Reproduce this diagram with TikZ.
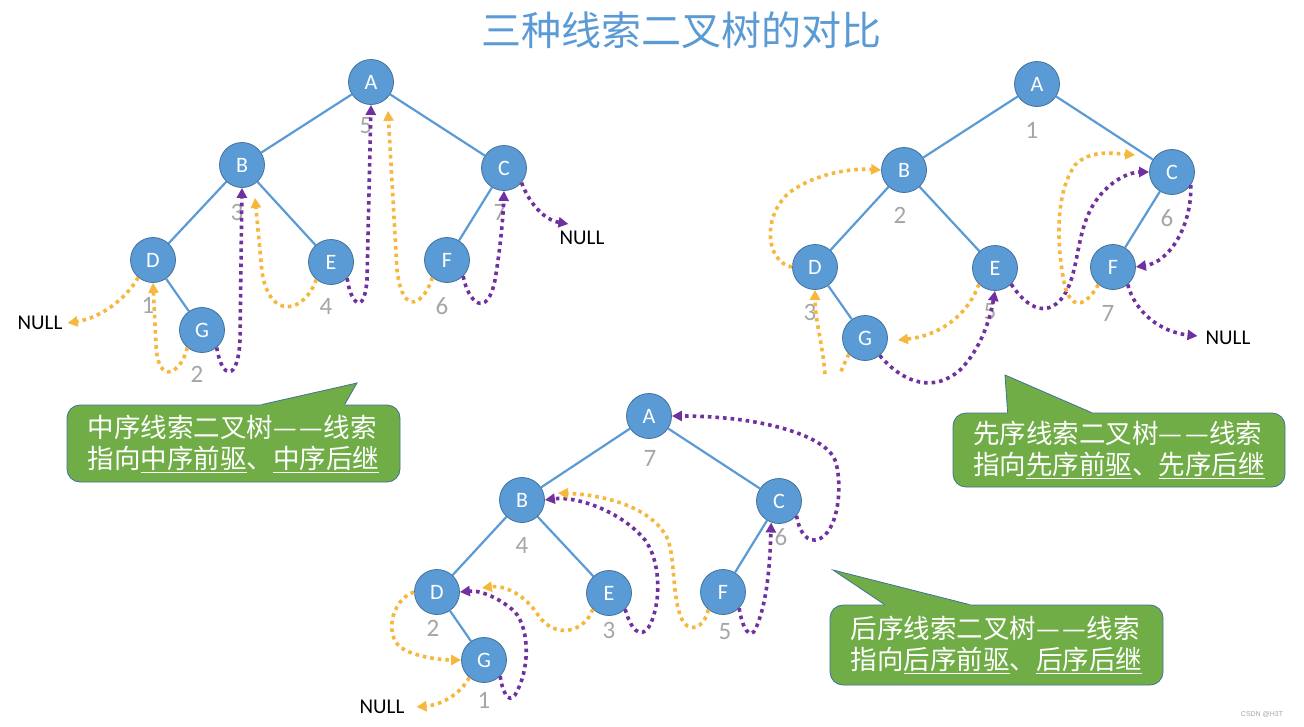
\documentclass[tikz,border=0pt]{standalone}
\usepackage{fontspec}
\setmainfont{Carlito}
\newfontfamily\cjk{Noto Sans CJK SC}
\newfontfamily\wmfont{Liberation Sans}
\usetikzlibrary{arrows.meta,calc}
\definecolor{nblue}{HTML}{5B9BD5}
\definecolor{nborder}{HTML}{41719C}
\definecolor{eblue}{HTML}{5B9BD5}
\definecolor{thyellow}{HTML}{F6B73C}
\definecolor{thpurple}{HTML}{7030A0}
\definecolor{numgray}{HTML}{A6A6A6}
\definecolor{cgreen}{HTML}{70AD47}
\definecolor{cborder}{HTML}{41719C}
\definecolor{titleblue}{HTML}{5B9BD5}
\newcommand{\dd}{—\kern3pt—}
\tikzset{
  tnode/.style={circle, minimum size=45pt, inner sep=0pt, fill=nblue, draw=nborder, line width=0.8pt, text=white, font=\fontsize{22}{22}\selectfont},
  tedge/.style={draw=eblue, line width=2.2pt},
  num/.style={text=numgray, inner sep=0pt, font=\fontsize{25}{25}\selectfont},
  nulltxt/.style={inner sep=0pt, font=\fontsize{21}{21}\selectfont},
  ythr/.style={draw=thyellow, line width=3.6pt, dash pattern=on 3.6pt off 4pt, -{Triangle[length=10pt,width=10pt]}},
  pthr/.style={draw=thpurple, line width=3.6pt, dash pattern=on 3.6pt off 4pt, -{Triangle[length=10pt,width=10pt]}},
  ythrplain/.style={draw=thyellow, line width=3.6pt, dash pattern=on 3.6pt off 4pt},
  callout/.style={rectangle, rounded corners=13pt, fill=cgreen, draw=cborder, line width=0.8pt, text=white, align=left, inner sep=0pt, font=\cjk\fontsize{26.5}{31}\selectfont},
  calloutside/.style={draw=cborder, line width=0.8pt}
}
\begin{document}
\begin{tikzpicture}[x=1pt,y=-1pt]
\useasboundingbox (0,0) rectangle (1304,726);
\fill[white] (0,0) rectangle (1304,726);

% title
\node[font=\cjk\fontsize{40}{40}\selectfont, text=titleblue] (title) at (681,30) {三种线索二叉树的对比};

% ===================== In-order tree =====================
\node[tnode] (iA) at (371,82) {A};
\node[tnode] (iB) at (242,165) {B};
\node[tnode] (iC) at (504,168) {C};
\node[tnode] (iD) at (153,260) {D};
\node[tnode] (iE) at (331,262) {E};
\node[tnode] (iF) at (447,260) {F};
\node[tnode] (iG) at (202,330) {G};
\draw[tedge] (iA) -- (iB);
\draw[tedge] (iA) -- (iC);
\draw[tedge] (iB) -- (iD);
\draw[tedge] (iB) -- (iE);
\draw[tedge] (iC) -- (iF);
\draw[tedge] (iD) -- (iG);
\node[num] (in5) at (366,126) {5};
\node[num] (in3) at (237,212) {3};
\node[num] (in7) at (500,212) {7};
\node[num] (in1) at (148,305) {1};
\node[num] (in4) at (326,306) {4};
\node[num] (in6) at (442,306) {6};
\node[num] (in2) at (197,374) {2};
\node[nulltxt] (iNL) at (40,323) {NULL};
\node[nulltxt] (iNR) at (582,238) {NULL};

\draw[ythr] (iD.-130) .. controls (125,300) and (100,318) .. ($(iNL.east)+(5,0)$);
\draw[ythr] (iG.-130) .. controls (182,372) and (158,388) .. (156,345) -- (iD.south);
\draw[pthr] (iG.-50) .. controls (222,380) and (238,382) .. (240,340) -- (iB.south);
\draw[ythr] (iE.-130) .. controls (305,312) and (270,322) .. (262,272) -- ($(iB.south)+(13,10)$);
\draw[pthr] (iE.-45) .. controls (350,302) and (364,318) .. (367,280) -- (iA.south);
\draw[ythr] (iF.-130) .. controls (425,302) and (403,320) .. (397,270) -- ($(iA.south)+(17,6)$);
\draw[pthr] (iF.-45) .. controls (468,302) and (487,320) .. (495,280) .. controls (500,250) and (503,220) .. (iC.south);
\draw[pthr] (iC.-40) .. controls (530,205) and (545,220) .. ($(iNR.north west)+(9,-7)$);

% ===================== Pre-order tree =====================
\node[tnode] (pA) at (1037,84) {A};
\node[tnode] (pB) at (904,170) {B};
\node[tnode] (pC) at (1172,172) {C};
\node[tnode] (pD) at (815,267) {D};
\node[tnode] (pE) at (995,268) {E};
\node[tnode] (pF) at (1113,267) {F};
\node[tnode] (pG) at (865,338) {G};
\draw[tedge] (pA) -- (pB);
\draw[tedge] (pA) -- (pC);
\draw[tedge] (pB) -- (pD);
\draw[tedge] (pB) -- (pE);
\draw[tedge] (pC) -- (pF);
\draw[tedge] (pD) -- (pG);
\node[num] (pn1) at (1032,130) {1};
\node[num] (pn2) at (900,215) {2};
\node[num] (pn3) at (810,312) {3};
\node[num] (pn5) at (990,312) {5};
\node[num] (pn6) at (1167,218) {6};
\node[num] (pn7) at (1108,313) {7};
\node[nulltxt] (pN) at (1228,338) {NULL};
\coordinate (pcut1) at (825,374);
\coordinate (pcut2) at (840,374);

\draw[ythr] (pD.west) .. controls (765,262) and (762,215) .. (790,192) .. controls (815,174) and (850,168) .. (pB.west);
\draw[ythr] (pcut1) .. controls (822,340) and (815,320) .. (pD.south);
\draw[ythrplain] (pG.-135) .. controls (846,360) and (843,366) .. (pcut2);
\draw[pthr] (pG.-50) .. controls (905,385) and (935,392) .. (960,370) .. controls (980,350) and (990,320) .. (pE.south);
\draw[ythr] (pE.-135) .. controls (970,310) and (945,335) .. ($(pG.east)+(10,2)$);
\draw[pthr] (pE.-45) .. controls (1025,305) and (1045,320) .. (1063,297) .. controls (1080,272) and (1075,232) .. (1095,202) .. controls (1110,180) and (1130,172) .. (pC.west);
\draw[ythr] (pF.-130) .. controls (1090,300) and (1072,318) .. (1064,282) .. controls (1056,240) and (1056,192) .. (1075,165) .. controls (1090,150) and (1110,153) .. ($(pC.west)+(-14,-17)$);
\draw[pthr] (pC.-35) .. controls (1192,225) and (1170,262) .. (pF.east);
\draw[pthr] (pF.-50) .. controls (1135,312) and (1160,332) .. ($(pN.west)+(-8,-2)$);

% ===================== Post-order tree =====================
\node[tnode] (qA) at (649,416) {A};
\node[tnode] (qB) at (522,500) {B};
\node[tnode] (qC) at (779,501) {C};
\node[tnode] (qD) at (437,592) {D};
\node[tnode] (qE) at (609,593) {E};
\node[tnode] (qF) at (723,592) {F};
\node[tnode] (qG) at (484,660) {G};
\draw[tedge] (qA) -- (qB);
\draw[tedge] (qA) -- (qC);
\draw[tedge] (qB) -- (qD);
\draw[tedge] (qB) -- (qE);
\draw[tedge] (qC) -- (qF);
\draw[tedge] (qD) -- (qG);
\node[num] (qn7) at (650,458) {7};
\node[num] (qn4) at (522,545) {4};
\node[num] (qn6) at (781,537) {6};
\node[num] (qn2) at (433,628) {2};
\node[num] (qn3) at (609,630) {3};
\node[num] (qn5) at (725,632) {5};
\node[num] (qn1) at (484,700) {1};
\node[nulltxt] (qN) at (382,707) {NULL};

\draw[ythr] (qG.-130) .. controls (460,695) and (440,705) .. ($(qN.east)+(12,0)$);
\draw[pthr] (qG.-45) .. controls (502,690) and (508,705) .. (515,695) .. controls (530,670) and (530,630) .. (515,612) .. controls (500,598) and (480,590) .. (qD.east);
\draw[ythr] (qD.west) .. controls (390,600) and (383,640) .. (405,650) .. controls (420,658) and (445,660) .. (qG.west);
\draw[ythr] (qE.-135) .. controls (585,632) and (555,640) .. (538,615) .. controls (525,595) and (505,585) .. ($(qD.east)+(22,-4)$);
\draw[pthr] (qE.-45) .. controls (630,627) and (640,642) .. (650,625) .. controls (662,600) and (660,560) .. (645,540) .. controls (620,510) and (575,496) .. (qB.east);
\draw[ythr] (qF.-130) .. controls (705,627) and (688,637) .. (680,615) .. controls (672,590) and (675,560) .. (668,540) .. controls (655,510) and (610,495) .. ($(qB.east)+(13,-7)$);
\draw[pthr] (qF.-45) .. controls (742,627) and (750,642) .. (756,628) .. controls (768,600) and (770,560) .. (qC.-110);
\draw[pthr] (qC.-40) .. controls (800,537) and (812,547) .. (825,535) .. controls (840,520) and (842,480) .. (835,460) .. controls (825,435) and (760,416) .. (qA.east);

% ===================== Callouts =====================
\node[callout, minimum width=333pt, minimum height=77pt] (c1) at (233.5,443.5) {中序线索二叉树\dd 线索\\指向\underline{中序前驱}、\underline{中序后继}};
\coordinate (t1) at (357,383);
\fill[cgreen] ($(c1.north west)+(195,2)$) -- ($(c1.north west)+(195,0)$) -- (t1) -- ($(c1.north west)+(278,0)$) -- ($(c1.north west)+(278,2)$) -- cycle;
\draw[calloutside] ($(c1.north west)+(195,0)$) -- (t1) -- ($(c1.north west)+(278,0)$);

\node[callout, minimum width=332pt, minimum height=74pt] (c2) at (1119,450) {先序线索二叉树\dd 线索\\指向\underline{先序前驱}、\underline{先序后继}};
\coordinate (t2) at (1005,375);
\fill[cgreen] ($(c2.north west)+(55,2)$) -- ($(c2.north west)+(55,0)$) -- (t2) -- ($(c2.north west)+(139,0)$) -- ($(c2.north west)+(139,2)$) -- cycle;
\draw[calloutside] ($(c2.north west)+(55,0)$) -- (t2) -- ($(c2.north west)+(139,0)$);

\node[callout, minimum width=333pt, minimum height=80pt] (c3) at (996.5,645) {后序线索二叉树\dd 线索\\指向\underline{后序前驱}、\underline{后序后继}};
\coordinate (t3) at (833,570);
\fill[cgreen] ($(c3.north west)+(55,2)$) -- ($(c3.north west)+(55,0)$) -- (t3) -- ($(c3.north west)+(140,0)$) -- ($(c3.north west)+(140,2)$) -- cycle;
\draw[calloutside] ($(c3.north west)+(55,0)$) -- (t3) -- ($(c3.north west)+(140,0)$);

% watermark
\node[font=\wmfont\fontsize{7}{7}\selectfont, text=gray!70] (wm) at (1262,714) {CSDN @H3T};
\end{tikzpicture}
\end{document}
